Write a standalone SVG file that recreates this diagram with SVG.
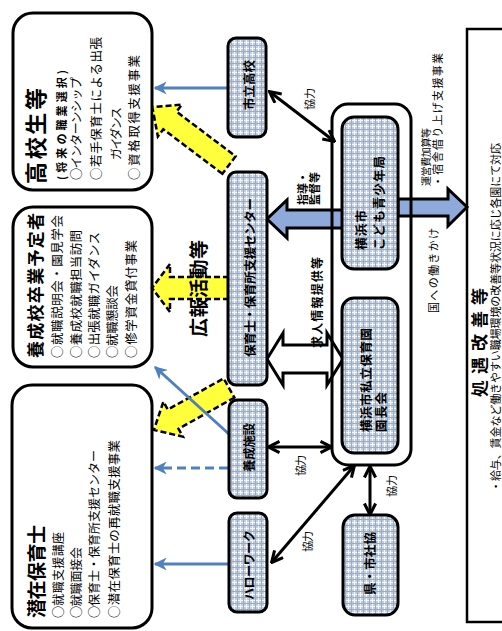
<svg xmlns="http://www.w3.org/2000/svg" width="502" height="631" viewBox="0 0 502 631">
<defs>
<style>
.t{font-family:"Noto Sans CJK JP","Noto Sans CJK SC",sans-serif;fill:#000;}
.b{font-weight:bold;}
.box{fill:#fff;stroke:#000;stroke-width:3;}
.pbox{fill:url(#plaid);stroke:#000;stroke-width:3;}
.blk{stroke:#000;stroke-width:3;fill:none;marker-start:url(#bk);marker-end:url(#bk);}
.blu{stroke:#4f81bd;stroke-width:3;fill:none;marker-end:url(#bl);}
.yel{fill:#ffff3c;stroke:#000;stroke-width:2.5;stroke-dasharray:6 3;}
.bbl{fill:#8eaadb;stroke:#000;stroke-width:3;stroke-linejoin:miter;}
</style>
<pattern id="plaid" width="6" height="6" patternUnits="userSpaceOnUse">
<rect width="6" height="6" fill="#c3cedc"/>
<path d="M0,0.5H6M0.5,0V6" stroke="#f4f6f9" stroke-width="1"/>
<path d="M0,3.5H6M3.5,0V6" stroke="#9aabc3" stroke-width="1"/>
</pattern>
<marker id="bk" viewBox="0 0 10 10" refX="8.5" refY="5" markerWidth="14" markerHeight="14" markerUnits="userSpaceOnUse" orient="auto-start-reverse">
<path d="M1,1 L9,5 L1,9" fill="none" stroke="#000" stroke-width="2.2"/>
</marker>
<marker id="bl" viewBox="0 0 10 10" refX="9" refY="5" markerWidth="13" markerHeight="13" markerUnits="userSpaceOnUse" orient="auto">
<path d="M0,0 L10,5 L0,10 L3,5 z" fill="#4f81bd"/>
</marker>
</defs>
<rect width="502" height="631" fill="#fff"/>

<!-- right big box -->
<g id="shogu">
<rect x="467" y="29" width="50" height="593" fill="#fff" stroke="#000" stroke-width="2.5"/>
<text class="t b" font-size="17" transform="translate(486,397) rotate(-90)" textLength="109" lengthAdjust="spacing">処遇改善等</text>
<text class="t" font-size="11" transform="translate(500,492) rotate(-90)" textLength="349" lengthAdjust="spacing">・給与、賃金など働きやすい職場環境の改善等状況に応じ各園にて対応</text>
</g>

<!-- left boxes -->
<g id="koukousei">
<rect class="box" x="13" y="13" width="139" height="177" rx="20"/>
<text class="t b" font-size="22" transform="translate(44,184) rotate(-90)" textLength="96" lengthAdjust="spacing">高校生等</text>
<text class="t b" font-size="11" transform="translate(66,180) rotate(-90)" textLength="110" lengthAdjust="spacing">(将来の職業選択)</text>
<text class="t" font-size="12" transform="translate(81,180) rotate(-90)" textLength="103" lengthAdjust="spacing">○インターンシップ</text>
<text class="t" font-size="12.5" transform="translate(101,180) rotate(-90)" textLength="143" lengthAdjust="spacing">○若手保育士による出張</text>
<text class="t" font-size="12" transform="translate(121,160) rotate(-90)" textLength="53" lengthAdjust="spacing">ガイダンス</text>
<text class="t" font-size="12.5" transform="translate(139,180) rotate(-90)" textLength="125" lengthAdjust="spacing">○資格取得支援事業</text>
</g>
<g id="yoseiko">
<rect class="box" x="13" y="207" width="139" height="160" rx="20"/>
<text class="t b" font-size="17" transform="translate(42,358) rotate(-90)" textLength="145" lengthAdjust="spacing">養成校卒業予定者</text>
<text class="t" font-size="12.5" transform="translate(62,358) rotate(-90)" textLength="143" lengthAdjust="spacing">○就職説明会・園見学会</text>
<text class="t" font-size="12.5" transform="translate(81,358) rotate(-90)" textLength="128" lengthAdjust="spacing">○養成校就職担当訪問</text>
<text class="t" font-size="12.5" transform="translate(99,358) rotate(-90)" textLength="126" lengthAdjust="spacing">○出張就職ガイダンス</text>
<text class="t" font-size="12.5" transform="translate(117,358) rotate(-90)" textLength="73" lengthAdjust="spacing">○就職懇談会</text>
<text class="t" font-size="12.5" transform="translate(136,358) rotate(-90)" textLength="118" lengthAdjust="spacing">○修学資金貸付事業</text>
</g>
<g id="senzai">
<rect class="box" x="12" y="385" width="140" height="243" rx="20"/>
<text class="t b" font-size="19" transform="translate(44,618) rotate(-90)" textLength="93" lengthAdjust="spacing">潜在保育士</text>
<text class="t" font-size="12" transform="translate(63,618) rotate(-90)" textLength="86" lengthAdjust="spacing">○就職支援講座</text>
<text class="t" font-size="12" transform="translate(81,618) rotate(-90)" textLength="71" lengthAdjust="spacing">○就職面接会</text>
<text class="t" font-size="12" transform="translate(99,618) rotate(-90)" textLength="168" lengthAdjust="spacing">○保育士・保育所支援センター</text>
<text class="t" font-size="12.5" transform="translate(119,618) rotate(-90)" textLength="178" lengthAdjust="spacing">○潜在保育士の再就職支援事業</text>
</g>

<!-- frame background -->
<rect x="332" y="104" width="79" height="361" rx="16" fill="#fff"/>

<!-- connectors -->
<g id="connectors">
<polygon class="yel" transform="translate(229,165) rotate(217)" points="0,-11 74,-11 74,-20 96,0 74,20 74,11 0,11"/>
<polygon class="yel" points="229,277 170,277 170,264 152,288 170,312 170,299 229,299"/>
<polygon class="yel" transform="translate(229,388) rotate(150.8)" points="0,-11 64,-11 64,-20 86,0 64,20 64,11 0,11"/>
<line class="blu" x1="228" y1="88" x2="155" y2="88"/>
<line class="blu" x1="230" y1="435" x2="155" y2="367"/>
<line class="blu" x1="228" y1="468" x2="155" y2="468" stroke-dasharray="9 5"/>
<line class="blu" x1="228" y1="564" x2="155" y2="564"/>
<line class="blk" x1="270" y1="92" x2="334" y2="141"/>
<line class="blk" x1="269" y1="447" x2="331" y2="447"/>
<line class="blk" x1="272" y1="562" x2="354" y2="466"/>
<line class="blk" x1="370" y1="467" x2="370" y2="514"/>
<polygon class="bbl" points="343,210 287,210 287,200 267,219 287,238 287,228 343,228"/>
<polygon class="bbl" points="398,199 448,199 448,189 467,207 448,226 448,216 398,216"/>
<polygon points="267,359 283,333 283,345 327,345 327,333 343,359 327,385 327,373 283,373 283,385" fill="#fff" stroke="#000" stroke-width="3" stroke-linejoin="miter"/>
<text class="t b" font-size="19" transform="translate(206,337) rotate(-90)" textLength="97" lengthAdjust="spacing">広報活動等</text>
<text class="t" font-size="11" transform="translate(314,110) rotate(-90)" textLength="22" lengthAdjust="spacing">協力</text>
<text class="t" font-size="11" transform="translate(305,476) rotate(-90)" textLength="21" lengthAdjust="spacing">協力</text>
<text class="t" font-size="11" transform="translate(312,552) rotate(-90)" textLength="21" lengthAdjust="spacing">協力</text>
<text class="t" font-size="11" transform="translate(396,497) rotate(-90)" textLength="22" lengthAdjust="spacing">協力</text>
<text class="t b" font-size="11" transform="translate(307,205) rotate(-90)" textLength="33" lengthAdjust="spacing">指導・</text>
<text class="t b" font-size="11" transform="translate(319,205) rotate(-90)" textLength="33" lengthAdjust="spacing">監督等</text>
<text class="t b" font-size="12" transform="translate(322,348) rotate(-90)" textLength="91" lengthAdjust="spacing">求人情報提供等</text>
<text class="t" font-size="10" transform="translate(430,186) rotate(-90)" textLength="58" lengthAdjust="spacing">運営費加算等</text>
<text class="t" font-size="11" transform="translate(442,187) rotate(-90)" textLength="134" lengthAdjust="spacing">・宿舎借り上げ支援事業</text>
<text class="t" font-size="11" transform="translate(438,313) rotate(-90)" textLength="85" lengthAdjust="spacing">国への働きかけ</text>
</g>

<!-- center nodes -->
<g id="shiritsu">
<rect class="pbox" x="228" y="38" width="38" height="99" rx="8"/>
<text class="t b" font-size="12.5" transform="translate(254,110) rotate(-90)" textLength="50" lengthAdjust="spacing">市立高校</text>
</g>
<g id="center">
<rect class="pbox" x="228" y="172" width="39" height="213" rx="8"/>
<text class="t b" font-size="12.5" transform="translate(255,357) rotate(-90)" textLength="159" lengthAdjust="spacing">保育士・保育所支援センター</text>
</g>
<g id="yosei">
<rect class="pbox" x="229" y="400" width="38" height="98" rx="8"/>
<text class="t b" font-size="12.5" transform="translate(254,472) rotate(-90)" textLength="49" lengthAdjust="spacing">養成施設</text>
</g>
<g id="hello">
<rect class="pbox" x="229" y="513" width="38" height="99" rx="8"/>
<text class="t b" font-size="12" transform="translate(254,600) rotate(-90)" textLength="70" lengthAdjust="spacing">ハローワーク</text>
</g>
<g id="kodomo">
<rect class="pbox" x="342" y="117" width="56" height="152" rx="12"/>
<text class="t b" font-size="12.5" transform="translate(366,250) rotate(-90)" textLength="40" lengthAdjust="spacing">横浜市</text>
<text class="t b" font-size="12.5" transform="translate(384,250) rotate(-90)" textLength="94" lengthAdjust="spacing">こども青少年局</text>
</g>
<g id="encho">
<rect class="pbox" x="342" y="298" width="56" height="155" rx="12"/>
<text class="t b" font-size="12.5" transform="translate(371,432) rotate(-90)" textLength="104" lengthAdjust="spacing">横浜市私立保育園</text>
<text class="t b" font-size="12.5" transform="translate(386,432) rotate(-90)" textLength="40" lengthAdjust="spacing">園長会</text>
</g>
<g id="shakyo">
<rect class="pbox" x="343" y="515" width="55" height="100" rx="12"/>
<text class="t b" font-size="12.5" transform="translate(375,595) rotate(-90)" textLength="63" lengthAdjust="spacing">県・市社協</text>
</g>
<g id="frame">
<rect x="332" y="104" width="79" height="361" rx="16" fill="none" stroke="#000" stroke-width="3"/>
</g>
</svg>
